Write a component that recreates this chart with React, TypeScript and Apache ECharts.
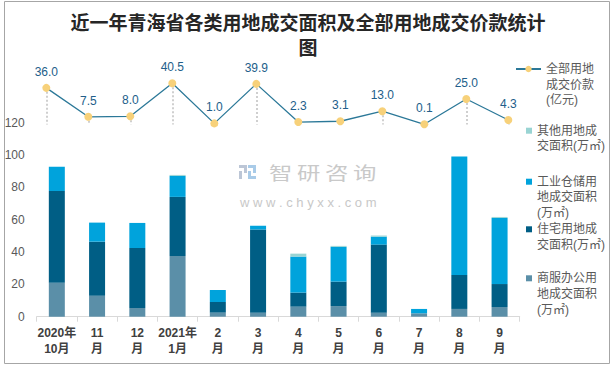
import React, { useEffect, useRef } from "react";
import * as echarts from "echarts";

const categories = ["2020年\n10月", "11\n月", "12\n月", "2021年\n1月", "2\n月", "3\n月", "4\n月", "5\n月", "6\n月", "7\n月", "8\n月", "9\n月"];
const commercial = [21.0, 13.0, 5.4, 37.6, 2.5, 2.5, 6.2, 6.6, 2.5, 2.1, 4.8, 6.0];
const residential = [56.8, 33.4, 37.1, 36.5, 6.6, 51.4, 8.7, 15.1, 42.1, 0, 21.0, 14.2];
const industrial = [15.0, 11.8, 15.5, 13.0, 7.4, 2.3, 22.3, 21.5, 4.9, 2.7, 73.3, 40.9];
const other = [0, 0, 0, 0.6, 0, 0, 1.8, 0.6, 0.7, 0, 0, 0.6];
const price = [36.0, 7.5, 8.0, 40.5, 1.0, 39.9, 2.3, 3.1, 13.0, 0.1, 25.0, 4.3];
const yTicks = [0, 20, 40, 60, 80, 100, 120];

const nameLine = "全部用地成交价款(亿元)";
const nameOther = "其他用地成交面积(万㎡)";
const nameInd = "工业仓储用地成交面积(万㎡)";
const nameRes = "住宅用地成交面积(万㎡)";
const nameCom = "商服办公用地成交面积(万㎡)";

const legendLines: Record<string, string[]> = {
  [nameLine]: ["全部用地", "成交价款", "(亿元)"],
  [nameOther]: ["其他用地成", "交面积(万㎡)"],
  [nameInd]: ["工业仓储用", "地成交面积", "(万㎡)"],
  [nameRes]: ["住宅用地成", "交面积(万㎡)"],
  [nameCom]: ["商服办公用", "地成交面积", "(万㎡)"],
};

const FONT = "'Liberation Sans', 'Noto Sans CJK SC', sans-serif";
const LH = 15.7;

function legendFor(name: string, firstLineCenter: number, left: number, isLine: boolean) {
  const lines = legendLines[name];
  const pad = lines.length - 1;
  const total = lines.length + pad;
  const text = "\n".repeat(pad) + lines.join("\n");
  return {
    data: [name],
    orient: "vertical",
    left,
    top: firstLineCenter - (total * LH) / 2,
    padding: 0,
    itemWidth: isLine ? 25 : 6,
    itemHeight: isLine ? 8 : 6,
    icon: isLine ? undefined : "rect",
    selectedMode: false,
    formatter: () => text,
    textStyle: { fontSize: 12, lineHeight: LH, color: "#595959", fontFamily: FONT },
  };
}

export default function App() {
  const ref = useRef<HTMLDivElement>(null);
  useEffect(() => {
    if (!ref.current) return;
    const chart = echarts.init(ref.current, undefined, { renderer: "svg" });
    const barBase = { type: "bar", stack: "area", barWidth: 16, xAxisIndex: 0, yAxisIndex: 0 };
    const wmChars = ["智", "研", "咨", "询"];
    const wmX = [269, 297, 325, 353];
    const option: any = {
      animation: false,
      title: {
        text: "近一年青海省各类用地成交面积及全部用地成交价款统计\n图",
        left: "center",
        top: 11,
        padding: 0,
        textStyle: { fontSize: 19, fontWeight: "bold", color: "#262626", lineHeight: 25, fontFamily: FONT },
      },
      legend: [
        legendFor(nameLine, 69, 515, true),
        legendFor(nameOther, 130.7, 526, false),
        legendFor(nameInd, 181.7, 526, false),
        legendFor(nameRes, 229.3, 526, false),
        legendFor(nameCom, 278.3, 526, false),
      ],
      grid: [
        { left: 36.7, top: 122.7, width: 483, height: 194, outerBoundsMode: "none" },
        { left: 25.3, top: 78.7, width: 504, height: 45.7, outerBoundsMode: "none" },
      ],
      xAxis: [
        {
          type: "category",
          gridIndex: 0,
          data: categories,
          axisLine: { show: true, lineStyle: { color: "#d9d9d9", width: 1 } },
          axisTick: { show: true, length: 5, lineStyle: { color: "#d9d9d9" } },
          axisLabel: {
            interval: 0,
            margin: 8,
            fontSize: 12,
            lineHeight: 16,
            fontWeight: "bold",
            color: "#404040",
            fontFamily: FONT,
          },
          splitLine: { show: false },
        },
        {
          type: "category",
          gridIndex: 1,
          data: categories,
          show: false,
        },
      ],
      yAxis: [
        {
          type: "value",
          gridIndex: 0,
          min: yTicks[0],
          max: yTicks[yTicks.length - 1],
          interval: 20,
          axisLine: { show: false },
          axisTick: { show: false },
          splitLine: { show: false },
          axisLabel: { margin: 12, fontSize: 12, color: "#595959", fontFamily: FONT },
        },
        {
          type: "value",
          gridIndex: 1,
          min: 0,
          max: 45,
          show: false,
          splitLine: { show: false },
        },
      ],
      series: [
        { ...barBase, name: nameCom, data: commercial, itemStyle: { color: "#5B8FA8" } },
        { ...barBase, name: nameRes, data: residential, itemStyle: { color: "#005E85" } },
        { ...barBase, name: nameInd, data: industrial, itemStyle: { color: "#00A3DC" } },
        { ...barBase, name: nameOther, data: other, itemStyle: { color: "#99D4D3" } },
        {
          type: "line",
          name: nameLine,
          xAxisIndex: 1,
          yAxisIndex: 1,
          data: price,
          symbol: "circle",
          symbolSize: 8,
          z: 5,
          lineStyle: { color: "#2B7898", width: 1.3 },
          itemStyle: { color: "#F7D17A" },
          label: {
            show: true,
            position: "top",
            distance: 6,
            fontSize: 12,
            color: "#225E8A",
            fontFamily: FONT,
            formatter: (p: any) => Number(p.value).toFixed(1),
          },
          markLine: {
            silent: true,
            symbol: ["none", "none"],
            label: { show: false },
            lineStyle: { color: "#c4c4c4", type: [2, 2], width: 1.6 },
            emphasis: { disabled: true },
            data: price.map((v, i) => [{ coord: [i, v] }, { coord: [i, 0] }]),
          },
        },
      ],
      graphic: [
        {
          type: "rect",
          shape: { x: 4.5, y: 1.5, width: 605, height: 362 },
          style: { fill: "none", stroke: "#a6a6a6", lineWidth: 1 },
          silent: true,
        },
        { type: "rect", shape: { x: 239, y: 165, width: 8, height: 3 }, style: { fill: "#bcc6d6" }, silent: true },
        { type: "rect", shape: { x: 244, y: 165, width: 3, height: 8 }, style: { fill: "#bcc6d6" }, silent: true },
        { type: "rect", shape: { x: 239, y: 171, width: 3, height: 8 }, style: { fill: "#bcc6d6" }, silent: true },
        { type: "rect", shape: { x: 248, y: 165, width: 8, height: 3 }, style: { fill: "#a9cbe8" }, silent: true },
        { type: "rect", shape: { x: 253, y: 165, width: 3, height: 8 }, style: { fill: "#a9cbe8" }, silent: true },
        { type: "rect", shape: { x: 248, y: 171, width: 3, height: 8 }, style: { fill: "#a9cbe8" }, silent: true },
        { type: "rect", shape: { x: 248, y: 176, width: 8, height: 3 }, style: { fill: "#a9cbe8" }, silent: true },
        ...wmChars.map((c, i) => ({
          type: "text",
          x: wmX[i],
          y: 172.5,
          scaleX: 1.3,
          silent: true,
          style: {
            text: c,
            fontSize: 18,
            fontFamily: "'Noto Sans CJK SC', sans-serif",
            fill: "#c9c9c9",
            textAlign: "left",
            textVerticalAlign: "middle",
          },
        })),
        {
          type: "text",
          x: 240,
          y: 202,
          silent: true,
          style: {
            text: "w w w . c h y x x . c o m",
            fontSize: 13,
            fontFamily: "'Liberation Sans', sans-serif",
            fill: "#c8c8c8",
            textAlign: "left",
            textVerticalAlign: "middle",
          },
        },
      ],
    };
    chart.setOption(option);
    return () => chart.dispose();
  }, []);
  return <div ref={ref} style={{ position: "fixed", left: 0, top: 0, width: 616, height: 367, background: "#fff" }} />;
}
